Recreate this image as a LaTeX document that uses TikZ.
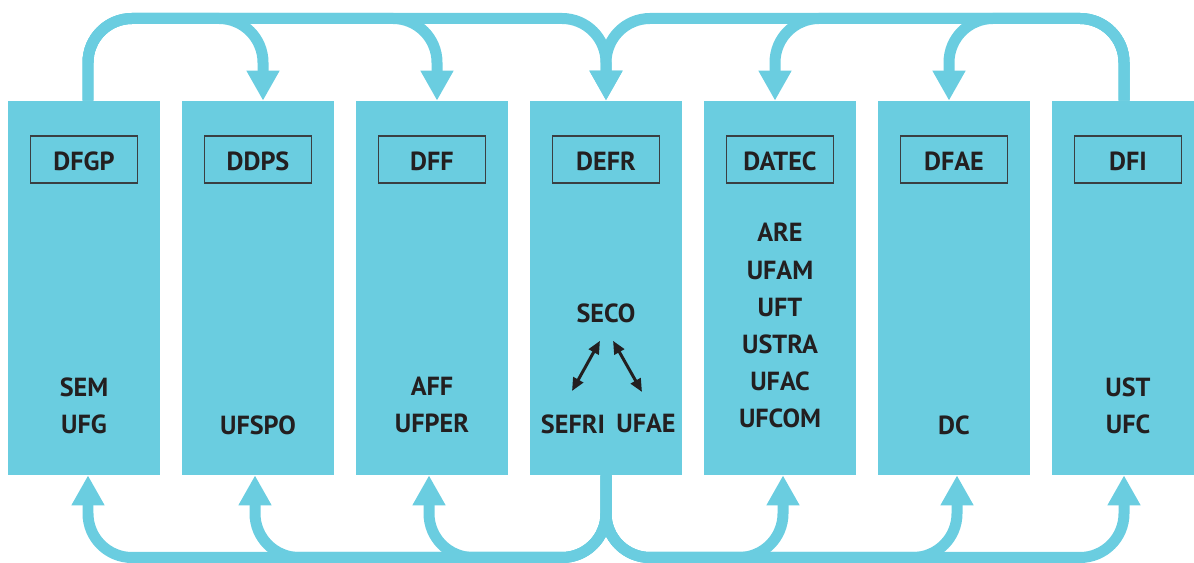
\documentclass[tikz,border=0pt]{standalone}
\usepackage{fontspec}
\setmainfont{PT Sans}
\usetikzlibrary{arrows.meta,calc}
\definecolor{ink}{HTML}{231F20}
\definecolor{sky}{HTML}{6ACDE0}
\definecolor{rim}{HTML}{3A3F42}

\begin{document}
\begin{tikzpicture}[x=0.02cm,y=-0.02cm,
  font=\bfseries\fontsize{14.9pt}{21.1pt}\selectfont,
  col/.style={fill=sky,inner sep=0pt,minimum width=3.04cm,minimum height=7.48cm},
  tag/.style={draw=rim,line width=0.6pt,inner sep=0pt,minimum width=2.14cm,minimum height=0.94cm,
              text height=0.44cm,text depth=0pt,text=ink},
  unit/.style={text=ink,align=center,inner sep=0pt,anchor=north},
  link/.style={sky,line width=0.22cm,rounded corners=0.88cm,-{Triangle[length=0.6cm,width=0.62cm]}},
  dual/.style={ink,line width=1.7pt,{Triangle[length=0.26cm,width=0.22cm]}-{Triangle[length=0.26cm,width=0.22cm]}}]
  \path[use as bounding box,clip] (0,0) rectangle (1194,563);
  % the seven departments
  \node[col] (dfgp)  at (84,288)   {};
  \node[col] (ddps)  at (258,288)  {};
  \node[col] (dff)   at (432,288)  {};
  \node[col] (defr)  at (606,288)  {};
  \node[col] (datec) at (780,288)  {};
  \node[col] (dfae)  at (954,288)  {};
  \node[col] (dfi)   at (1128,288) {};
  \node[tag] (dfgp-t)  at (84,159.5)   {DFGP};
  \node[tag] (ddps-t)  at (258,159.5)  {DDPS};
  \node[tag] (dff-t)   at (432,159.5)  {DFF};
  \node[tag] (defr-t)  at (606,159.5)  {DEFR};
  \node[tag] (datec-t) at (780,159.5)  {DATEC};
  \node[tag] (dfae-t)  at (954,159.5)  {DFAE};
  \node[tag] (dfi-t)   at (1128,159.5) {DFI};
  % offices under each department
  \node[unit] (dfgp-u)  at (84,377)   {SEM\\UFG};
  \node[unit] (ddps-u)  at (258,415)  {UFSPO};
  \node[unit] (dff-u)   at (432,377)  {AFF\\UFPER};
  \node[unit] (seco)    at (606,303)  {SECO};
  \node[unit] (sefri)   at (573,414)  {SEFRI};
  \node[unit] (ufae)    at (646,414)  {UFAE};
  \node[unit] (datec-u) at (780,223)  {ARE\\UFAM\\UFT\\USTRA\\UFAC\\UFCOM};
  \node[unit] (dfae-u)  at (954,415)  {DC};
  \node[unit] (dfi-u)   at (1128,377) {UST\\UFC};
  \draw[dual] ($(seco.south)+(-6,18)$) -- ($(sefri.north)+(-1,-23)$);
  \draw[dual] ($(seco.south)+(7,18)$) -- ($(ufae.north)+(-4,-22)$);
  % loops above and below
  \coordinate (top) at (606,18.5);
  \coordinate (bot) at (606,557.5);
  \draw[link] ($(dfgp.north)+(4,0)$) |- ($(ddps.north |- top)+(5,0)$) -- ($(ddps.north)+(5,0)$);
  \draw[link] ($(dfgp.north)+(4,0)$) |- ($(dff.north |- top)+(5,0)$) -- ($(dff.north)+(5,0)$);
  \draw[link] ($(dfgp.north)+(4,0)$) |- (defr.north |- top) -- (defr.north);
  \draw[link] ($(dfi.north)+(-4,0)$) |- (defr.north |- top) -- (defr.north);
  \draw[link] ($(dfi.north)+(-4,0)$) |- ($(datec.north |- top)+(-5,0)$) -- ($(datec.north)+(-5,0)$);
  \draw[link] ($(dfi.north)+(-4,0)$) |- ($(dfae.north |- top)+(-5,0)$) -- ($(dfae.north)+(-5,0)$);
  \draw[link] (defr.south) |- ($(dfgp.south |- bot)+(4,0)$) -- ($(dfgp.south)+(4,0)$);
  \draw[link] (defr.south) |- ($(ddps.south |- bot)+(-3,0)$) -- ($(ddps.south)+(-3,0)$);
  \draw[link] (defr.south) |- ($(dff.south |- bot)+(-3,0)$) -- ($(dff.south)+(-3,0)$);
  \draw[link] (defr.south) |- ($(datec.south |- bot)+(3,0)$) -- ($(datec.south)+(3,0)$);
  \draw[link] (defr.south) |- ($(dfae.south |- bot)+(3,0)$) -- ($(dfae.south)+(3,0)$);
  \draw[link] (defr.south) |- ($(dfi.south |- bot)+(-4,0)$) -- ($(dfi.south)+(-4,0)$);
\end{tikzpicture}
\end{document}
